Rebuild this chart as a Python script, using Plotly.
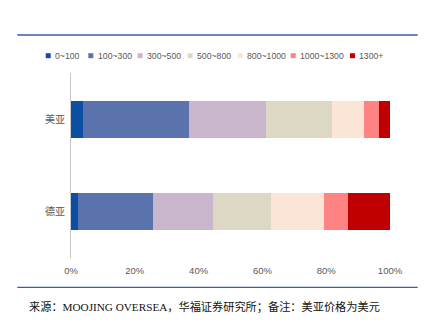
import plotly.graph_objects as go

# ---- data ----
regions = ["美亚", "德亚"]
price_bands = ["0~100", "100~300", "300~500", "500~800", "800~1000", "1000~1300", "1300+"]
share_us = [3.8, 33.3, 24.1, 20.7, 9.8, 4.7, 3.6]
share_de = [2.1, 23.6, 18.8, 18.2, 16.5, 7.6, 13.2]
band_colors = ["#0B4EA2", "#5B73AD", "#C9B5CC", "#DDD8C4", "#FBE5D6", "#FF8383", "#C00000"]
x_ticks = [0, 20, 40, 60, 80, 100]
x_tick_text = ["0%", "20%", "40%", "60%", "80%", "100%"]
source_text = "来源：MOOJING OVERSEA，华福证券研究所；备注：美亚价格为美元"

# ---- geometry ----
W, H = 429, 325
L, R, T, B = 71, 390, 73, 258


def px_x(p):
    return (p - L) / (R - L)


def px_y(p):
    return (B - p) / (B - T)


fig = go.Figure()
for i, band in enumerate(price_bands):
    fig.add_trace(go.Bar(
        y=regions,
        x=[share_us[i], share_de[i]],
        name=band,
        orientation="h",
        marker=dict(color=band_colors[i], line=dict(width=0)),
        width=0.4,
        showlegend=False,
        hoverinfo="x+y+name",
    ))

shapes = []
annotations = []
# custom legend
legend_left = [45.7, 88.3, 137.7, 187.7, 237.7, 290.7, 350.0]
legend_y = 55.7
for i, band in enumerate(price_bands):
    x0 = legend_left[i]
    shapes.append(dict(type="rect", xref="paper", yref="paper",
                       x0=px_x(x0), x1=px_x(x0 + 5), y0=px_y(legend_y + 2.5), y1=px_y(legend_y - 2.5),
                       fillcolor=band_colors[i], line=dict(width=0)))
    annotations.append(dict(xref="paper", yref="paper", x=px_x(x0 + 7.3), y=px_y(legend_y),
                            xanchor="left", yanchor="middle", showarrow=False, text=band,
                            font=dict(family="Liberation Sans, Arial", size=8.7, color="#595959")))

# blue frame lines
for yy in (35, 287.3):
    shapes.append(dict(type="line", xref="paper", yref="paper",
                       x0=px_x(17.3), x1=px_x(417.7), y0=px_y(yy), y1=px_y(yy),
                       line=dict(color="#3A5EA0", width=1.3)))

annotations.append(dict(xref="paper", yref="paper", x=px_x(26.5), y=px_y(306),
                        xanchor="left", yanchor="middle", showarrow=False, text=source_text,
                        font=dict(family="Liberation Serif, Noto Sans CJK SC", size=11.2, color="#111111")))

fig.update_layout(
    width=W, height=H,
    margin=dict(l=L, r=W - R, t=T, b=H - B, pad=0),
    barmode="stack",
    bargap=0.6,
    plot_bgcolor="white",
    paper_bgcolor="white",
    shapes=shapes,
    annotations=annotations,
    xaxis=dict(range=[0, 100], tickvals=x_ticks, ticktext=x_tick_text,
               showgrid=False, zeroline=False, showline=False,
               ticks="outside", ticklen=4, tickcolor="rgba(0,0,0,0)",
               tickfont=dict(family="Liberation Sans, Arial", size=9.5, color="#595959")),
    yaxis=dict(categoryorder="array", categoryarray=regions, autorange="reversed",
               showgrid=False, zeroline=False, showline=True, linecolor="#C8C8C8", linewidth=1,
               ticks="outside", ticklen=3, tickcolor="rgba(0,0,0,0)",
               tickfont=dict(family="Noto Sans CJK SC", size=10, color="#595959")),
    showlegend=False,
)

fig.write_html("out.html")
